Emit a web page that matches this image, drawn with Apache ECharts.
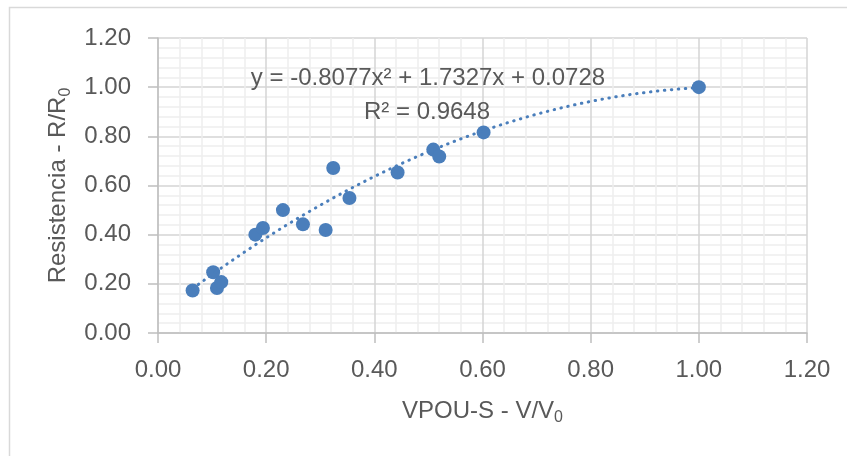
<!DOCTYPE html>
<html>
<head>
<meta charset="utf-8">
<script src="https://cdn.jsdelivr.net/npm/echarts@6/dist/echarts.min.js"></script>
<style>
html,body{margin:0;padding:0;background:#fff;}
#chart{width:847px;height:456px;}
</style>
</head>
<body>
<div id="chart"></div>
<script>
// Data
var xValues = [0.064, 0.102, 0.109, 0.117, 0.180, 0.194, 0.231, 0.268, 0.310, 0.324, 0.354, 0.443, 0.509, 0.520, 0.602, 1.000];
var yValues = [0.173, 0.247, 0.183, 0.207, 0.400, 0.427, 0.500, 0.442, 0.419, 0.671, 0.549, 0.653, 0.746, 0.718, 0.816, 1.000];
// Polynomial trendline coefficients as printed on the chart: a*x^2 + b*x + c
var trendCoef = [-0.8077, 1.7327, 0.0728];
var equationText = 'y = -0.8077x² + 1.7327x + 0.0728';
var r2Text = 'R² = 0.9648';
var axisTicks = { min: 0, max: 1.2, interval: 0.2 };

var points = xValues.map(function (x, i) { return [x, yValues[i]]; });
var xMin = Math.min.apply(null, xValues), xMax = Math.max.apply(null, xValues);
var trend = [];
for (var k = 0; k <= 100; k++) {
  var x = xMin + (xMax - xMin) * k / 100;
  trend.push([x, trendCoef[0] * x * x + trendCoef[1] * x + trendCoef[2]]);
}

var font = '"Liberation Sans", Arial, sans-serif';
var txt = '#595959';
var blue = '#4a7ebb';

function axisCommon() {
  return {
    type: 'value',
    min: axisTicks.min, max: axisTicks.max, interval: axisTicks.interval,
    axisLine: { show: true, lineStyle: { color: '#bfbfbf', width: 1.5 } },
    axisTick: { show: true, length: 10, lineStyle: { color: '#bfbfbf', width: 1.5 } },
    splitLine: { show: true, lineStyle: { color: '#d4d4d4', width: 1.5 } },
    minorTick: { show: false, splitNumber: 5 },
    minorSplitLine: { show: true, lineStyle: { color: '#eeeeee', width: 1.5 } },
    axisLabel: { color: txt, fontFamily: font, fontSize: 24, formatter: function (v) { return v.toFixed(2); } },
    nameLocation: 'middle'
  };
}

var xAxis = axisCommon();
xAxis.axisLabel.margin = 25;
xAxis.name = '{a|VPOU-S - V/V}{s|0}';
xAxis.nameGap = 63;
xAxis.nameTextStyle = {
  rich: {
    a: { color: txt, fontFamily: font, fontSize: 24, lineHeight: 30 },
    s: { color: txt, fontFamily: font, fontSize: 16, lineHeight: 30, verticalAlign: 'bottom' }
  }
};

var yAxis = axisCommon();
yAxis.axisLabel.margin = 27;
yAxis.name = '{a|Resistencia - R/R}{s|0}';
yAxis.nameGap = 72;
yAxis.nameRotate = 90;
yAxis.nameTextStyle = xAxis.nameTextStyle;

var chart = echarts.init(document.getElementById('chart'), null, { renderer: 'canvas' });
chart.setOption({
  animation: false,
  backgroundColor: '#ffffff',
  grid: { left: 158, right: 40, top: 38, bottom: 123, containLabel: false },
  xAxis: xAxis,
  yAxis: yAxis,
  graphic: [
    { type: 'rect', shape: { x: 9.5, y: 7.5, width: 900, height: 500 }, style: { fill: 'none', stroke: '#d9d9d9', lineWidth: 1.5 }, z: 0 },
    { type: 'text', x: 428, y: 78, style: { text: equationText, fill: txt, font: '24px ' + font, textAlign: 'center', textVerticalAlign: 'middle' }, z: 100 },
    { type: 'text', x: 427, y: 112, style: { text: r2Text, fill: txt, font: '24px ' + font, textAlign: 'center', textVerticalAlign: 'middle' }, z: 100 }
  ],
  series: [
    {
      type: 'scatter', data: points, symbol: 'circle', symbolSize: 14,
      itemStyle: { color: blue, opacity: 1 }, z: 2
    },
    {
      type: 'line', data: trend, showSymbol: false, smooth: false, z: 3,
      lineStyle: { color: blue, width: 3, type: [0.5, 6.5], cap: 'round' }
    }
  ]
});
</script>
</body>
</html>
